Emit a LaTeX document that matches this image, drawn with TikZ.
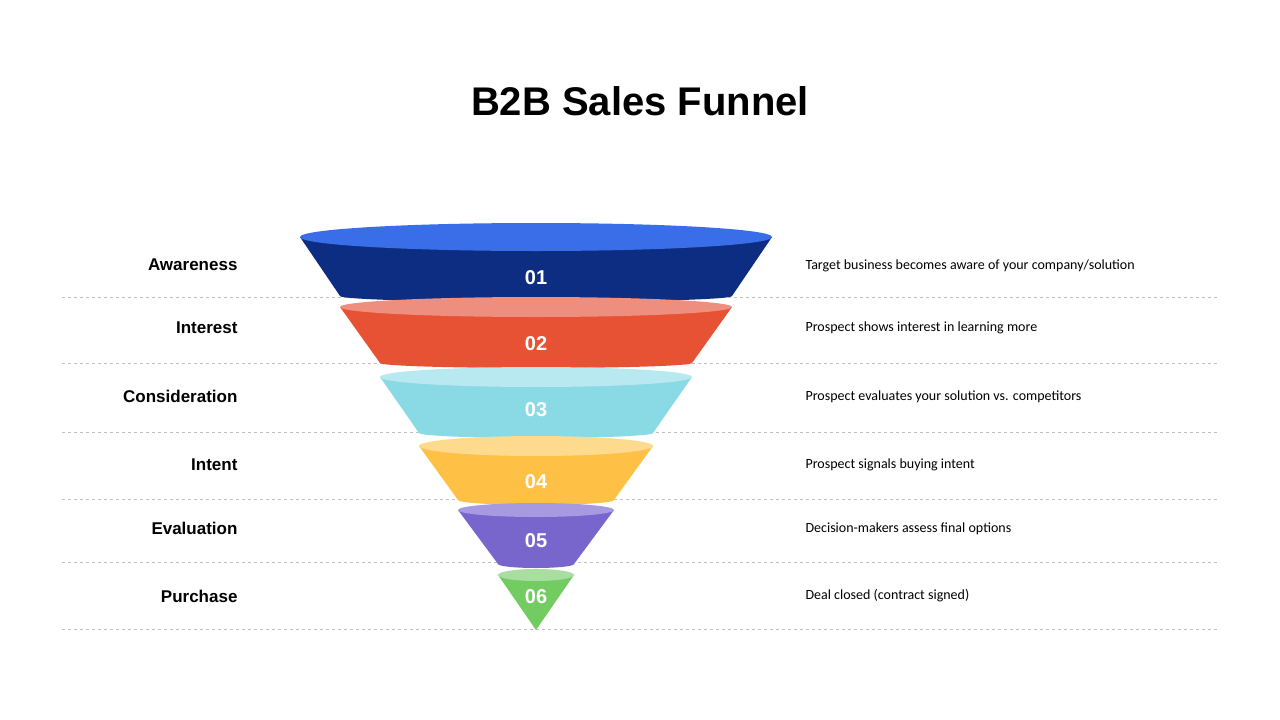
\documentclass[tikz,border=0pt]{standalone}
\usepackage{fontspec}
\setmainfont{Liberation Sans}
\newfontfamily\descfont{Carlito}
\begin{document}
\begin{tikzpicture}[x=1pt,y=-1pt,
  lbl/.style={anchor=east,font=\bfseries\fontsize{17}{20}\selectfont},
  desc/.style={anchor=west,font=\descfont\fontsize{14}{17}\selectfont},
  num/.style={text=white,font=\bfseries\fontsize{20}{22}\selectfont},
  sep/.style={draw=black!25,dashed,line width=0.7pt}]
\useasboundingbox (0,0) rectangle (1280,720);
\fill[white] (0,0) rectangle (1280,720);
\node (title) at (640,101) {\bfseries\fontsize{40}{46}\selectfont B2B Sales Funnel};
% separators
\foreach \yy in {297,363,432,499,562,629}{\draw[sep] (62,\yy) -- (1220,\yy);}
% segments: top y, top rx, top ry, bottom y, bottom rx, bottom ry, top colour, body colour
\def\seg#1#2#3#4#5#6#7#8{%
  \fill[#8] (536-#2,#1) -- (536-#5,#4) arc (180:0:#5 and #6) -- (536+#2,#1) -- cycle;
  \fill[#8] (536-#2,#1) arc (180:0:#2 and #3) -- cycle;
  \fill[#7] (536,#1) ellipse ({#2} and {#3});}
\definecolor{t1}{HTML}{3A6EE8}\definecolor{b1}{HTML}{0D2D82}
\definecolor{t2}{HTML}{EE8E7E}\definecolor{b2}{HTML}{E85234}
\definecolor{t3}{HTML}{B8E8F0}\definecolor{b3}{HTML}{8ADAE6}
\definecolor{t4}{HTML}{FDDA8E}\definecolor{b4}{HTML}{FFC145}
\definecolor{t5}{HTML}{A89AE0}\definecolor{b5}{HTML}{7966CC}
\definecolor{t6}{HTML}{A8DFA0}\definecolor{b6}{HTML}{72CC62}
\seg{237}{236}{14}{296}{196}{6}{t1}{b1}
\seg{307}{196}{10}{363}{156}{5}{t2}{b2}
\seg{377}{156}{10}{433}{117}{5}{t3}{b3}
\seg{446}{117}{10}{500}{78}{5}{t4}{b4}
\seg{510}{78}{7}{564}{38}{4}{t5}{b5}
\fill[b6] (536-38,575) -- (536,630) -- (536+38,575) -- cycle;
\fill[t6] (536,575) ellipse (38 and 6);
\node[num] (n1) at (536,278) {01};
\node[num] (n2) at (536,344) {02};
\node[num] (n3) at (536,410) {03};
\node[num] (n4) at (536,482) {04};
\node[num] (n5) at (536,541) {05};
\node[num] (n6) at (536,597) {06};
\node[lbl] (l1) at (241,265) {Awareness};
\node[lbl] (l2) at (241,328) {Interest};
\node[lbl] (l3) at (241,396) {Consideration};
\node[lbl] (l4) at (241,465) {Intent};
\node[lbl] (l5) at (241,528) {Evaluation};
\node[lbl] (l6) at (241,596) {Purchase};
\node[desc] (d1) at (802,266) {Target business becomes aware of your company/solution};
\node[desc] (d2) at (802,328) {Prospect shows interest in learning more};
\node[desc] (d3) at (802,397) {Prospect evaluates your solution vs. competitors};
\node[desc] (d4) at (802,465) {Prospect signals buying intent};
\node[desc] (d5) at (802,529) {Decision-makers assess final options};
\node[desc] (d6) at (802,596) {Deal closed (contract signed)};
\end{tikzpicture}
\end{document}
